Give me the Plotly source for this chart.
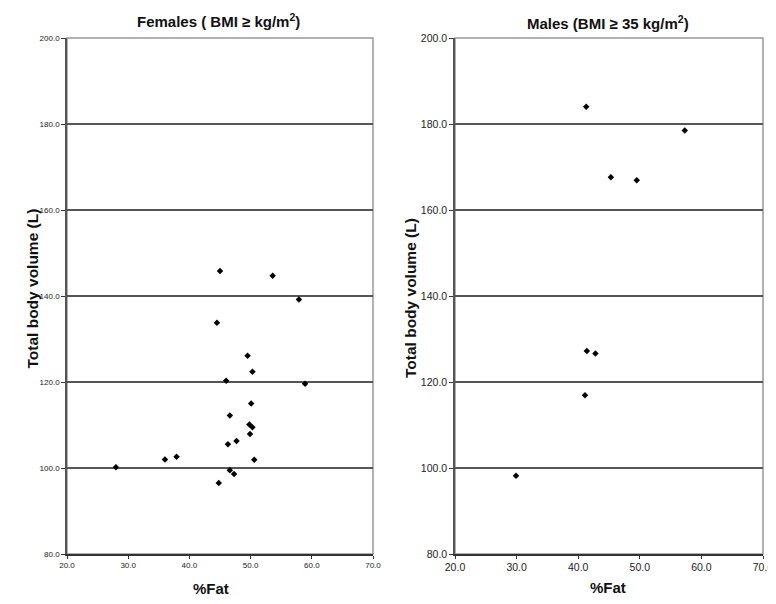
import plotly.graph_objects as go

# Females (%Fat, Total body volume L)
fem_fat = [45.0, 53.6, 57.9, 44.5, 49.5, 50.3, 46.0, 58.9, 50.1, 46.6, 49.8, 50.3,
           49.9, 47.7, 46.3, 36.0, 37.9, 50.6, 28.0, 46.6, 47.3, 44.8]
fem_vol = [145.8, 144.7, 139.2, 133.8, 126.1, 122.4, 120.3, 119.6, 115.0, 112.2, 110.1, 109.5,
           107.9, 106.3, 105.5, 102.0, 102.6, 101.9, 100.2, 99.5, 98.6, 96.5]

# Males
male_fat = [41.3, 57.3, 45.3, 49.5, 41.4, 42.8, 41.1, 29.9]
male_vol = [184.0, 178.5, 167.6, 166.9, 127.2, 126.6, 116.9, 98.2]

x_ticks = [20, 30, 40, 50, 60, 70]
y_ticks = [80, 100, 120, 140, 160, 180, 200]

OFF = 8  # page body margin
W, H = 776 - OFF, 604 - OFF


def fx(px):
    return (px - OFF) / W


def fy(py):
    return 1 - (py - OFF) / H


L_dom = [fx(67), fx(373)]
R_dom = [fx(455), fx(763)]
Y_dom = [fy(554), fy(38)]

fig = go.Figure()
fig.add_trace(go.Scatter(x=fem_fat, y=fem_vol, mode="markers", xaxis="x", yaxis="y",
                         marker=dict(symbol="diamond", size=5, color="black"), showlegend=False))
fig.add_trace(go.Scatter(x=male_fat, y=male_vol, mode="markers", xaxis="x2", yaxis="y2",
                         marker=dict(symbol="diamond", size=5, color="black"), showlegend=False))


def xax(dom, anchor, size):
    return dict(domain=dom, anchor=anchor, range=[20, 70], tickvals=x_ticks, tickformat=".1f",
                showgrid=False, zeroline=False, showline=True, linecolor="#333", linewidth=1.5,
                ticks="outside", ticklen=3, tickcolor="#333", automargin=False,
                tickfont=dict(family="Liberation Sans, Arial", size=size, color="#222"))


def yax(anchor, size):
    return dict(domain=Y_dom, anchor=anchor, range=[80, 200], tickvals=y_ticks, tickformat=".1f",
                showgrid=True, gridcolor="#555", gridwidth=1.5, zeroline=False,
                showline=True, linecolor="#555", linewidth=1.5, automargin=False,
                ticks="outside", ticklen=4, tickcolor="#333",
                tickfont=dict(family="Liberation Sans, Arial", size=size, color="#222"))


fig.update_layout(
    width=W, height=H, margin=dict(l=0, r=0, t=0, b=0, pad=0, autoexpand=False),
    paper_bgcolor="white", plot_bgcolor="white",
    xaxis=xax(L_dom, "y", 8), yaxis=yax("x", 8),
    xaxis2=xax(R_dom, "y2", 10.5), yaxis2=yax("x2", 10.5),
    showlegend=False,
)

# light border on top/right
for xr, yr in [("x domain", "y domain"), ("x2 domain", "y2 domain")]:
    fig.add_shape(type="rect", xref=xr, yref=yr, x0=0, x1=1, y0=0, y1=1,
                  line=dict(color="#999", width=1.5), layer="below")

tf = dict(family="Liberation Sans, Arial", size=15, color="#111")
ann = [
    dict(text="<b>Females ( BMI ≥ kg/m<sup>2</sup>)</b>", x=fx(218), y=fy(21)),
    dict(text="<b>Males (BMI ≥ 35 kg/m<sup>2</sup>)</b>", x=fx(608), y=fy(22)),
    dict(text="<b>%Fat</b>", x=fx(211), y=fy(588)),
    dict(text="<b>%Fat</b>", x=fx(608), y=fy(587)),
]
for a in ann:
    fig.add_annotation(xref="paper", yref="paper", showarrow=False, xanchor="center",
                       yanchor="middle", font=tf, **a)
fig.add_annotation(text="<b>Total body volume (L)</b>", xref="paper", yref="paper", x=fx(21),
                   y=fy(289), textangle=-90, showarrow=False, font=dict(tf, size=15.5))
fig.add_annotation(text="<b>Total body volume (L)</b>", xref="paper", yref="paper", x=fx(410),
                   y=fy(298), textangle=-90, showarrow=False, font=dict(tf, size=15.5))

fig.write_html("out.html")
